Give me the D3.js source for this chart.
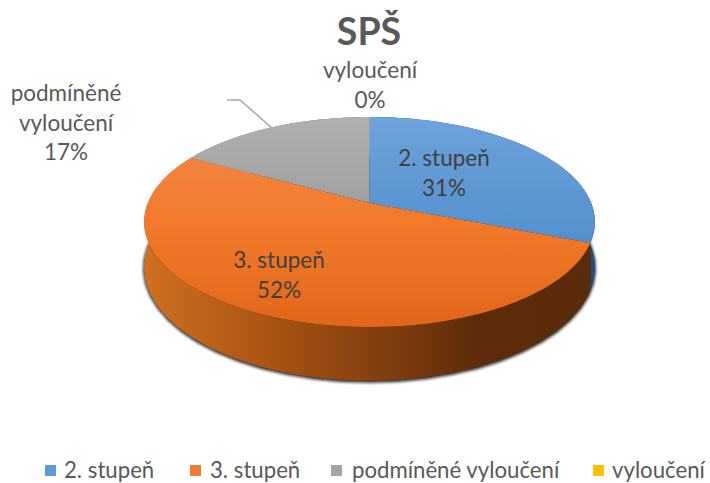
<!DOCTYPE html>
<html><head><meta charset="utf-8">
<script src="https://cdnjs.cloudflare.com/ajax/libs/d3/7.9.0/d3.min.js"></script>
<style>html,body{margin:0;background:#fff}svg{display:block}text{font-family:Lato,"Open Sans",sans-serif}</style>
</head><body><svg id="c" width="710" height="483"></svg>
<script>
const categories = ["2. stupeň","3. stupeň","podmíněné vyloučení","vyloučení"];
const values = [31,52,17,0];
const percentLabels = ["31%","52%","17%","0%"];
const colors = ["#5b9bd5","#ed7d31","#a5a5a5","#ffc000"];
const title = "SPŠ";

const svg = d3.select("#c");
const defs = svg.append("defs");
const vgrad=(id,stops)=>{const g=defs.append("linearGradient").attr("id",id).attr("gradientUnits","userSpaceOnUse").attr("x1",0).attr("x2",0).attr("y1",117).attr("y2",327);
 stops.forEach(s=>g.append("stop").attr("offset",s[0]).attr("stop-color",s[1]));};
vgrad("t0",[[0,"#6ea3db"],[1,"#3f82c4"]]);
vgrad("t1",[[0,"#f08a4c"],[.5,"#f27a2a"],[1,"#e2661a"]]);
vgrad("t2",[[0,"#b0b0b0"],[1,"#8a8a8a"]]);
vgrad("t3",[[0,"#ffc000"],[1,"#e0a800"]]);
const sg=defs.append("linearGradient").attr("id","s1").attr("gradientUnits","userSpaceOnUse").attr("x1",144).attr("x2",595).attr("y1",0).attr("y2",0);
[[0,"#d0701f"],[.3,"#a65213"],[.55,"#7f3c0e"],[.75,"#5c2b0a"],[1,"#5a2a09"]].forEach(s=>sg.append("stop").attr("offset",s[0]).attr("stop-color",s[1]));
defs.append("filter").attr("id","blur").attr("x","-10%").attr("y","-10%").attr("width","120%").attr("height","120%")
  .append("feGaussianBlur").attr("stdDeviation",1.8);
const sideFill=["#1f4f7d","url(#s1)","#666","#a07800"];

const cx=369.5, cy=203, rx=221.7, ry=101.6, k=0.181, depth=44;
const project=(a,z)=>{const u=Math.sin(a),v=-Math.cos(a),w=1-k*v;return [cx+rx*u/w, cy+(ry*v+z)/w];};
const arcs=d3.pie().sort(null).value(d=>d)(values);
const line=d3.line();
const sample=(a0,a1,z)=>d3.range(0,61).map(i=>project(a0+(a1-a0)*i/60,z));

// shadow
svg.append("path").attr("d",line(sample(0,2*Math.PI,depth))+"Z").attr("transform","translate(0,1)")
  .attr("fill","#111").attr("stroke","#111").attr("stroke-width",2).attr("filter","url(#blur)").attr("opacity",.9);

// sides
svg.selectAll("path.side").data(arcs).join("path").attr("class","side")
  .attr("d",d=>line(sample(d.startAngle,d.endAngle,0).concat(sample(d.endAngle,d.startAngle,depth)))+"Z")
  .attr("fill",(d,i)=>sideFill[i]);

// top
svg.selectAll("path.top").data(arcs).join("path").attr("class","top")
  .attr("d",d=>line([[cx,cy]].concat(sample(d.startAngle,d.endAngle,0)))+"Z")
  .attr("fill",(d,i)=>`url(#t${i})`);

// leader
svg.append("path").attr("d","M227,100H240L272,128").attr("fill","none").attr("stroke","#a6a6a6").attr("stroke-width",1.5);

const textColor="#595959", fs=22.5;
const label=(x,y,lines,col)=>{const t=svg.append("text").attr("text-anchor","middle").attr("font-size",fs).attr("fill",col||textColor);
 lines.forEach((l,i)=>t.append("tspan").attr("x",x).attr("y",y+i*29.5).text(l));};

svg.append("text").attr("x",369).attr("y",45).attr("text-anchor","middle").attr("font-size",37.5).attr("font-weight",700).attr("fill",textColor).text(title);
label(370,78,[categories[3],percentLabels[3]]);
label(66,101,["podmíněné","vyloučení",percentLabels[2]]);
label(444,166,[categories[0],percentLabels[0]],"#404040");
label(279,268,[categories[1],percentLabels[1]],"#404040");

// legend
const legendX=[45,190,331,593], textX=[64,210,352,612];
const lg=svg.selectAll("g.l").data(categories).join("g").attr("class","l");
lg.append("rect").attr("x",(d,i)=>legendX[i]).attr("y",465).attr("width",11).attr("height",11).attr("fill",(d,i)=>colors[i]);
lg.append("text").attr("x",(d,i)=>textX[i]).attr("y",478).attr("font-size",22.2).attr("fill",textColor).text(d=>d);
</script></body></html>
